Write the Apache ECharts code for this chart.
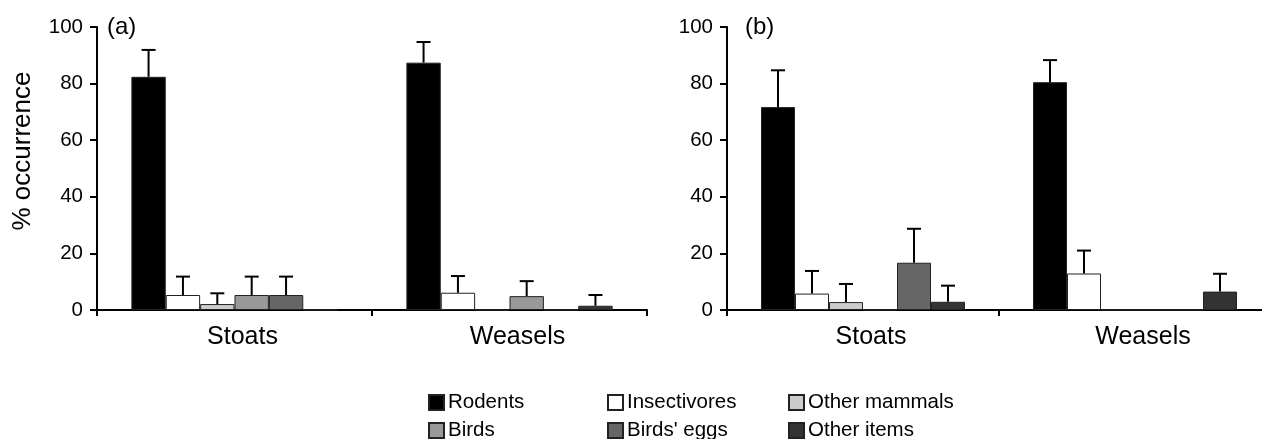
<!DOCTYPE html>
<html>
<head>
<meta charset="utf-8">
<script src="https://cdn.jsdelivr.net/npm/echarts@6/dist/echarts.min.js"></script>
<style>html,body{margin:0;padding:0;background:#fff}#c{width:1262px;height:439px}</style>
</head>
<body>
<div id="c"></div>
<script>
const categories = ['Stoats', 'Weasels'];
const seriesNames = ['Rodents', 'Insectivores', 'Other mammals', 'Birds', "Birds' eggs", 'Other items'];
const seriesColors = ['#000000', '#ffffff', '#cccccc', '#999999', '#666666', '#333333'];
const yTicks = [0, 20, 40, 60, 80, 100];
const panelLabels = ['(a)', '(b)'];

// Panel (a) values per category (order = seriesNames)
const aStoats = [82.4, 5.3, 2.1, 5.3, 5.3, 0];
const aWeasels = [87.4, 6.1, 0, 4.9, 0, 1.5];
const aStoatsErr = [9.5, 6.5, 3.8, 6.5, 6.5, 0];
const aWeaselsErr = [7.3, 5.9, 0, 5.3, 0, 3.8];
// Panel (b)
const bStoats = [71.7, 5.8, 2.8, 0, 16.7, 2.9];
const bWeasels = [80.5, 12.9, 0, 0, 0, 6.5];
const bStoatsErr = [13.0, 8.0, 6.4, 0, 12.0, 5.7];
const bWeaselsErr = [7.8, 8.1, 0, 0, 0, 6.3];

const FONT = 'Liberation Sans, Arial, sans-serif';
const panels = [
  {vals: [aStoats, aWeasels], errs: [aStoatsErr, aWeaselsErr]},
  {vals: [bStoats, bWeasels], errs: [bStoatsErr, bWeaselsErr]}
];

const grids = [
  {left: 97, top: 27, width: 550, height: 283, outerBoundsMode: 'none', containLabel: false},
  {left: 727, top: 27, width: 544, height: 283, outerBoundsMode: 'none', containLabel: false}
];

const xAxes = grids.map((g, i) => ({
  type: 'category', gridIndex: i, data: categories,
  axisLine: {lineStyle: {color: '#000', width: 2}},
  axisTick: {show: true, length: 6, lineStyle: {color: '#000', width: 2}},
  axisLabel: {color: '#000', fontSize: 25, fontFamily: FONT, margin: 15, padding: [0, 0, 0, 16]}
}));
const yAxes = grids.map((g, i) => ({
  type: 'value', gridIndex: i, min: yTicks[0], max: yTicks[yTicks.length - 1], interval: 20,
  splitLine: {show: false},
  axisLine: {show: true, lineStyle: {color: '#000', width: 2}},
  axisTick: {show: true, length: 7, lineStyle: {color: '#000', width: 2}},
  axisLabel: {color: '#000', fontSize: 20.5, fontFamily: FONT, margin: 14}
}));

const series = [];
panels.forEach((p, pi) => {
  seriesNames.forEach((name, si) => {
    series.push({
      type: 'bar', name: name, xAxisIndex: pi, yAxisIndex: pi,
      data: categories.map((c, ci) => p.vals[ci][si]),
      barGap: '0%', barCategoryGap: '25%',
      itemStyle: {color: seriesColors[si], borderColor: '#222', borderWidth: 1},
      emphasis: {disabled: true}
    });
  });
  const errData = [];
  categories.forEach((c, ci) => {
    seriesNames.forEach((n, si) => {
      errData.push([ci, si, p.vals[ci][si], p.errs[ci][si]]);
    });
  });
  series.push({
    type: 'custom', xAxisIndex: pi, yAxisIndex: pi, z: 10,
    data: errData,
    renderItem: function (params, api) {
      const ci = api.value(0), si = api.value(1), v = api.value(2), e = api.value(3);
      if (!e) return null;
      const base = api.coord([ci, v]);
      const top = api.coord([ci, v + e]);
      const band = api.size([1, 0])[0];
      const bw = band * 0.75 / seriesNames.length;
      const x = base[0] + (si - (seriesNames.length - 1) / 2) * bw;
      const st = {stroke: '#000', lineWidth: 2};
      return {type: 'group', children: [
        {type: 'line', shape: {x1: x, y1: base[1], x2: x, y2: top[1]}, style: st},
        {type: 'line', shape: {x1: x - 7, y1: top[1], x2: x + 7, y2: top[1]}, style: st}
      ]};
    }
  });
});

const legendPos = [[428, 392], [607, 392], [788, 392], [428, 420], [607, 420], [788, 420]];
const legends = seriesNames.map((n, i) => ({
  data: [n], left: legendPos[i][0], top: legendPos[i][1], padding: 0,
  icon: 'rect', itemWidth: 15, itemHeight: 15, selectedMode: false,
  textStyle: {color: '#000', fontSize: 20.5, fontFamily: FONT, padding: [0, 0, 0, -1]}
}));

const chart = echarts.init(document.getElementById('c'), null, {renderer: 'canvas'});
chart.setOption({
  animation: false,
  backgroundColor: '#fff',
  title: [
    {text: panelLabels[0], left: 107, top: 15, padding: 0, textStyle: {fontSize: 24, fontWeight: 'normal', color: '#000', fontFamily: FONT}},
    {text: panelLabels[1], left: 745, top: 15, padding: 0, textStyle: {fontSize: 24, fontWeight: 'normal', color: '#000', fontFamily: FONT}}
  ],
  graphic: [{
    type: 'text', x: 23, y: 151, rotation: Math.PI / 2,
    style: {text: '% occurrence', fontSize: 26, fontFamily: FONT, fill: '#000', align: 'center', verticalAlign: 'middle'}
  }],
  legend: legends,
  grid: grids,
  xAxis: xAxes,
  yAxis: yAxes,
  series: series
});
</script>
</body>
</html>
